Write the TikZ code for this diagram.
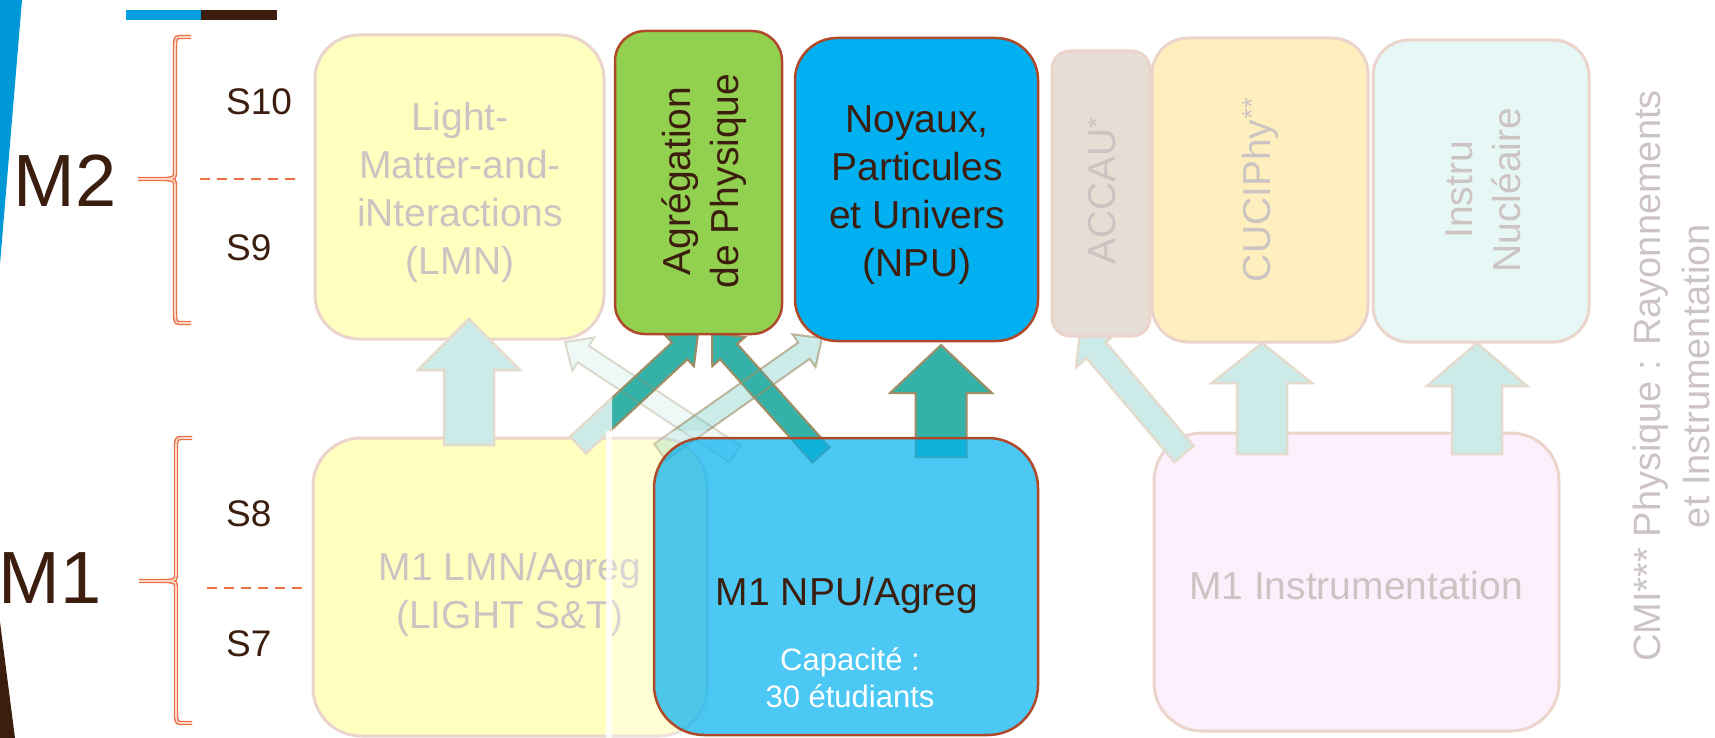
\documentclass[tikz,border=0pt]{standalone}
\usepackage{fontspec}
\setmainfont{Liberation Sans}
\usetikzlibrary{calc}
\definecolor{dbrown}{RGB}{59,30,14}
\definecolor{fadetxt}{RGB}{204,196,194}
\definecolor{fadeborder}{RGB}{234,212,204}
\definecolor{yelbox}{RGB}{255,255,192}
\definecolor{accbox}{RGB}{230,222,212}
\definecolor{cucbox}{RGB}{255,239,191}
\definecolor{insbox}{RGB}{230,247,246}
\definecolor{pinkbox}{RGB}{252,240,252}
\definecolor{agreen}{RGB}{146,208,80}
\definecolor{npublue}{RGB}{0,176,240}
\definecolor{redborder}{RGB}{176,72,42}
\definecolor{arrteal}{RGB}{53,178,168}
\definecolor{arrborder}{RGB}{160,140,100}
\definecolor{palefill}{RGB}{203,234,232}
\definecolor{paleborder}{RGB}{228,218,205}
\definecolor{brorange}{RGB}{236,112,70}
\definecolor{brpale}{RGB}{250,215,200}
\definecolor{stripeblue}{RGB}{0,152,214}
\definecolor{barblue}{RGB}{0,160,224}
\newcommand\blkarrow[6]{%
  \coordinate (ba-b) at ($(#3)!#6!(#2)$);
  \path[#1] ($(#2)!#4!90:(#3)$) -- ($(ba-b)!#4!-90:(#2)$) -- ($(ba-b)!#5!-90:(#2)$) -- (#3)
    -- ($(ba-b)!#5!90:(#2)$) -- ($(ba-b)!#4!90:(#2)$) -- ($(#2)!#4!-90:(#3)$) -- cycle;}
\tikzset{
  boxbase/.style={draw, line width=2.5pt, inner sep=0pt, anchor=center},
  fadebox/.style={boxbase, draw=fadeborder, line width=3pt},
  hotbox/.style={boxbase, draw=redborder},
  boxtxt/.style={font=\fontsize{39}{48}\selectfont, align=center, inner sep=0pt},
  fadetext/.style={boxtxt, text=fadetxt},
  hottext/.style={boxtxt, text=dbrown},
  captxt/.style={font=\fontsize{31}{37}\selectfont, text=white, inner sep=0pt, anchor=base},
  semlab/.style={font=\fontsize{37}{44}\selectfont, text=dbrown, anchor=base west, inner sep=0pt},
  levlab/.style={font=\fontsize{74}{80}\selectfont, text=dbrown, anchor=base, inner sep=0pt},
  brak/.style={draw=brorange, double=brpale, line width=1.4pt, double distance=1.6pt},
  semdash/.style={draw=brorange, line width=2.2pt, dash pattern=on 10pt off 7pt},
  palearrow/.style={fill=palefill, draw=paleborder, line width=2.5pt, line join=miter},
  darkarrow/.style={fill=arrteal, draw=arrborder, line width=2pt, line join=miter},
  lightarrowD/.style={fill=arrteal, fill opacity=0.25, draw=arrborder, draw opacity=0.6, line width=2pt},
  lightarrowC/.style={fill=arrteal, fill opacity=0.09, draw=arrborder, draw opacity=0.3, line width=2pt},
}
\begin{document}
\begin{tikzpicture}[x=1pt,y=-1pt]
\useasboundingbox (0,0) rectangle (1715,738);
% background decorations
\fill[stripeblue] (0,0) -- (22,0) -- (0,264) -- cycle;
\fill[dbrown] (0,622) -- (15,738) -- (0,738) -- cycle;
\fill[barblue] (126,10) rectangle (201,20);
\fill[dbrown] (201,10) rectangle (277,20);
% brackets and semester labels
\draw[brak] (191,37) -- (182,37) .. controls (176,37) .. (175,43) -- (175,171) .. controls (175,178) .. (166,179) -- (138,179)
  (166,179) .. controls (175,180) .. (175,187) -- (175,317) .. controls (176,323) .. (182,323) -- (191,323);
\draw[brak] (192,438) -- (183,438) .. controls (177,438) .. (176,444) -- (176,573) .. controls (176,580) .. (167,581) -- (139,581)
  (167,581) .. controls (176,582) .. (176,589) -- (176,717) .. controls (177,723) .. (183,723) -- (192,723);
\draw[semdash] (200,179) -- (302,179);
\draw[semdash] (207,588) -- (307,588);
\node[levlab] (m2) at (65,207) {M2};
\node[levlab] (m1) at (50,603) {M1};
\node[semlab] (s10) at (226,115) {S10};
\node[semlab] (s9) at (226,260) {S9};
\node[semlab] (s8) at (226,526) {S8};
\node[semlab] (s7) at (226,656) {S7};
% boxes under the arrows
\node[fadebox, fill=yelbox, rounded corners=44pt, minimum width=289pt, minimum height=304pt] (lmn2) at (459.5,187) {};
\node[fadetext] (lmn2t) at (460,192.5) {Light-\\Matter-and-\\iNteractions\\(LMN)};
\node[fadebox, fill=yelbox, rounded corners=48pt, minimum width=394pt, minimum height=298pt] (lmn1) at (510,587) {};
\node[fadetext] (lmn1t) at (510,594) {M1 LMN/Agreg\\(LIGHT S\&T)};
\node[fadebox, fill=pinkbox, rounded corners=48pt, minimum width=405pt, minimum height=298pt] (instr1) at (1356.5,582) {};
\node[fadetext, anchor=base] (instr1t) at (1356,599) {M1 Instrumentation};
% arrow end points
\coordinate (lmnup-s) at (469,445);  \coordinate (lmnup-e) at (469,319);
\coordinate (cucup-s) at (1262,454); \coordinate (cucup-e) at (1262,343);
\coordinate (insup-s) at (1477,454); \coordinate (insup-e) at (1477,343);
\coordinate (npuup-s) at (941,457);  \coordinate (npuup-e) at (941,345);
\coordinate (accup-s) at (1184,454); \coordinate (accup-e) at (1080,331);
\coordinate (aA-s) at (578,445); \coordinate (aA-e) at (698,334);
\coordinate (aB-s) at (821,455); \coordinate (aB-e) at (712,333);
\coordinate (aC-s) at (735,454); \coordinate (aC-e) at (565,342);
\coordinate (aD-s) at (660,452); \coordinate (aD-e) at (822,338);
% pale arrows
\blkarrow{palearrow}{lmnup-s}{lmnup-e}{25pt}{51pt}{51pt}
\blkarrow{palearrow}{cucup-s}{cucup-e}{25pt}{50pt}{40pt}
\blkarrow{palearrow}{insup-s}{insup-e}{25pt}{50pt}{43pt}
\blkarrow{palearrow}{accup-s}{accup-e}{12.5pt}{26pt}{25pt}
% dark arrows
\begin{scope}
  \clip (612,0) rectangle (1715,738);
  \blkarrow{darkarrow}{aA-s}{aA-e}{11.5pt}{21pt}{25pt}
\end{scope}
\begin{scope}
  \clip (0,0) rectangle (612,738);
  \blkarrow{palearrow}{aA-s}{aA-e}{11.5pt}{21pt}{25pt}
\end{scope}
\blkarrow{darkarrow}{aB-s}{aB-e}{11.5pt}{22pt}{25pt}
\blkarrow{darkarrow}{npuup-s}{npuup-e}{25.5pt}{51pt}{48pt}
% light crossing arrows
\blkarrow{lightarrowC}{aC-s}{aC-e}{10pt}{20pt}{22pt}
\blkarrow{lightarrowD}{aD-s}{aD-e}{10pt}{20pt}{22pt}
% top row boxes
\node[hotbox, fill=agreen, rounded corners=30pt, minimum width=167pt, minimum height=303pt] (agreg) at (698.5,182.5) {};
\node[hottext, rotate=90] (agregt) at (704,181) {Agrégation\\de Physique};
\node[hotbox, fill=npublue, rounded corners=42pt, minimum width=243pt, minimum height=303pt] (npu2) at (916.5,189.5) {};
\node[hottext] (npu2t) at (917,195) {Noyaux,\\Particules\\et Univers\\(NPU)};
\node[fadebox, fill=accbox, rounded corners=18pt, minimum width=98pt, minimum height=285pt] (accau) at (1101,193.5) {};
\node[fadetext, rotate=90] (accaut) at (1102,191) {ACCAU\textsuperscript{*}};
\node[fadebox, fill=cucbox, rounded corners=36pt, minimum width=216pt, minimum height=304pt] (cuci) at (1260,190) {};
\node[fadetext, rotate=90] (cucit) at (1260,190) {CUCIPhy\textsuperscript{**}};
\node[fadebox, fill=insbox, rounded corners=36pt, minimum width=216pt, minimum height=302pt] (instru) at (1481,191) {};
\node[fadetext, rotate=90] (instrut) at (1483,190) {Instru\\Nucléaire};
\node[fadetext, rotate=90, font=\fontsize{38}{49}\selectfont] (cmit) at (1671,376) {CMI*** Physique : Rayonnements\\et Instrumentation};
% white veil strip
\fill[white, opacity=0.3] (606,431) rectangle (710,738);
\fill[white, opacity=0.8] (606,431) rectangle (612,738);
% M1 NPU box
\node[hotbox, fill=npublue, fill opacity=0.7, rounded corners=50pt, minimum width=384pt, minimum height=297pt] (npu1) at (846,586.5) {};
\node[hottext, anchor=base] (npu1t) at (847,605) {M1 NPU/Agreg};
\node[captxt] (cap1) at (850,670) {Capacité :};
\node[captxt] (cap2) at (850,707) {30 étudiants};
\end{tikzpicture}
\end{document}
